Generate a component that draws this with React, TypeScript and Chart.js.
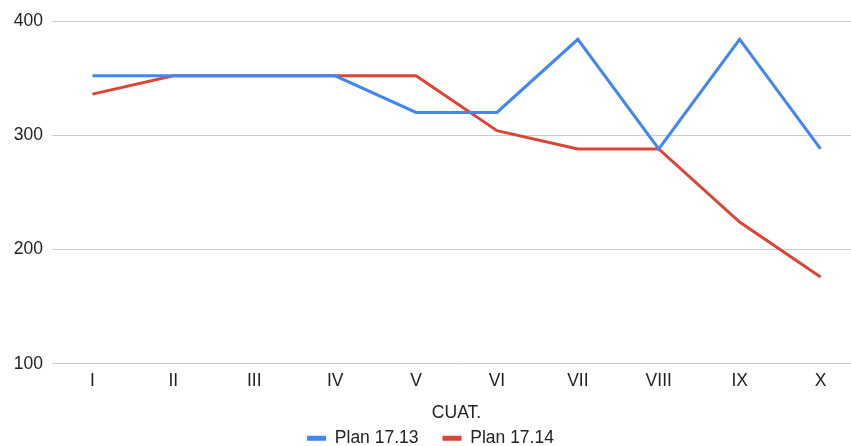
import React, { useEffect, useRef } from "react";
import { Chart, registerables } from "chart.js";

Chart.register(...registerables);

const categories = ["I", "II", "III", "IV", "V", "VI", "VII", "VIII", "IX", "X"];
const plan1713 = [352, 352, 352, 352, 320, 320, 384, 288, 384, 288];
const plan1714 = [336, 352, 352, 352, 352, 304, 288, 288, 224, 176];
const yTicks = [100, 200, 300, 400];

const FONT = "Arial, 'Liberation Sans', sans-serif";
const FS = 17.5;

export default function App() {
  const ref = useRef<HTMLCanvasElement | null>(null);
  useEffect(() => {
    document.body.style.margin = "0";
    document.body.style.overflow = "hidden";
    const chart = new Chart(ref.current!, {
      type: "line",
      data: {
        labels: categories,
        datasets: [
          {
            label: "Plan 17.13",
            data: plan1713,
            borderColor: "#4285F4",
            backgroundColor: "#4285F4",
            borderWidth: 3,
            pointRadius: 0,
            tension: 0,
          },
          {
            label: "Plan 17.14",
            data: plan1714,
            borderColor: "#DB4437",
            backgroundColor: "#DB4437",
            borderWidth: 3,
            pointRadius: 0,
            tension: 0,
          },
        ],
      },
      options: {
        animation: false,
        responsive: true,
        maintainAspectRatio: false,
        layout: { padding: { top: 21, bottom: 0, left: 0, right: 0 } },
        plugins: {
          tooltip: { enabled: false },
          legend: {
            position: "bottom",
            labels: {
              boxWidth: 19,
              boxHeight: 5,
              padding: 24,
              color: "#222",
              font: { family: FONT, size: FS },
              generateLabels: (c: any) =>
                Chart.defaults.plugins.legend.labels
                  .generateLabels(c)
                  .map((it: any) => ({ ...it, lineWidth: 0 })),
            },
          },
        },
        scales: {
          x: {
            offset: true,
            grid: { display: false, drawTicks: false },
            border: { display: false },
            ticks: {
              color: "#222",
              padding: 7,
              font: { family: FONT, size: FS },
              maxRotation: 0,
            },
            title: {
              display: true,
              text: "CUAT.",
              color: "#222",
              font: { family: FONT, size: FS },
              padding: { top: 3.4, bottom: -17.7 },
            },
          },
          y: {
            min: 100,
            max: 400,
            afterFit: (scale: any) => {
              scale.width = 52;
            },
            afterBuildTicks: (scale: any) => {
              scale.ticks = yTicks.map((v) => ({ value: v }));
            },
            grid: { color: "#cccccc", drawTicks: false, lineWidth: 1 },
            border: { display: false },
            ticks: {
              color: "#222",
              padding: 9,
              font: { family: FONT, size: FS },
            },
          },
        },
      },
    });
    return () => chart.destroy();
  }, []);
  return (
    <div style={{ position: "fixed", left: 0, top: 0, width: 851, height: 446, overflow: "hidden" }}>
      <div style={{ position: "absolute", left: 0, top: 0, width: 861, height: 457 }}>
        <canvas ref={ref} />
      </div>
    </div>
  );
}
